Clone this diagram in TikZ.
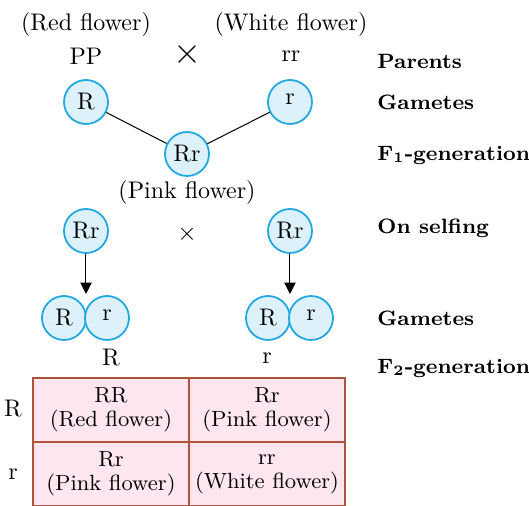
\documentclass[tikz,border=0pt]{standalone}
\usetikzlibrary{arrows.meta}
\definecolor{gameteFill}{HTML}{DDF1FB}
\definecolor{gameteLine}{HTML}{1EA7E1}
\definecolor{cellFill}{HTML}{FDE6EF}
\definecolor{cellLine}{HTML}{B0533A}
\tikzset{
  gamete/.style={circle, draw=gameteLine, fill=gameteFill, line width=0.7pt, minimum size=17.6pt, inner sep=0pt},
  stage/.style={rectangle, draw=none, anchor=west, inner sep=0pt, font=\fontsize{8.3}{10}\selectfont\bfseries},
  cell/.style={rectangle, draw=cellLine, fill=cellFill, line width=0.8pt, minimum width=62.4pt, minimum height=25.6pt, align=center, inner sep=0pt, font=\fontsize{8.8}{9.6}\selectfont}
}
\begin{document}
\begin{tikzpicture}[x=0.4pt, y=-0.4pt, font=\fontsize{9.6}{11}\selectfont]
\useasboundingbox (0,0) rectangle (529,506);
%%%%%%%%%%%%%%%%%%%%%%%%%%%%%%% Parents
\node[rectangle, draw=none](txtRed) at (86,25){(Red flower)};
\node[rectangle, draw=none](txtWhite) at (291,25){(White flower)};
\node[rectangle, draw=none](pPP) at (86,56){PP};
\node[rectangle, draw=none](pCross) at (188,55){\Large$\times$};
\node[rectangle, draw=none](prr) at (291,56){rr};
\node[stage](lblParents) at (377,61){Parents};
%%%%%%%%%%%%%%%%%%%%%%%%%%%%%%% Gametes and F1
\node[gamete](gR) at (86,102){R};
\node[gamete](gr) at (290,102){\raisebox{2pt}{r}};
\node[stage](lblGametes) at (377,102){Gametes};
\node[gamete](fRr) at (187,154){Rr};
\node[stage](lblFone) at (377,155){F\textsubscript{1}-generation};
\draw[thin] (gR) -- (fRr);
\draw[thin] (gr) -- (fRr);
\node[rectangle, draw=none](txtPink) at (187,193){(Pink flower)};
%%%%%%%%%%%%%%%%%%%%%%%%%%%%%%% Selfing
\node[gamete](sRrA) at (86,231){Rr};
\node[rectangle, draw=none](sCross) at (187,234){$\times$};
\node[gamete](sRrB) at (290,231){Rr};
\node[stage](lblSelf) at (377,228){On selfing};
\node[gamete](sRA) at (64,318){R};
\node[gamete](srA) at (107,318){\raisebox{2pt}{r}};
\node[gamete](sRB) at (268,318){R};
\node[gamete](srB) at (311,318){\raisebox{2pt}{r}};
\coordinate (tipA) at (86,294);
\coordinate (tipB) at (290,294);
\draw[-{Triangle[length=4.5pt, width=4.5pt]}, thin] (sRrA) -- (tipA);
\draw[-{Triangle[length=4.5pt, width=4.5pt]}, thin] (sRrB) -- (tipB);
\node[stage](lblGametesB) at (377,318){Gametes};
%%%%%%%%%%%%%%%%%%%%%%%%%%%%%%% F2 checkerboard
\node[rectangle, draw=none](colR) at (111,358){R};
\node[rectangle, draw=none](colr) at (267,358){r};
\node[stage](lblFtwo) at (377,368){F\textsubscript{2}-generation};
\node[rectangle, draw=none](rowR) at (13,409){R};
\node[rectangle, draw=none](rowr) at (13,474){r};
\node[cell](cRR) at (111,410){RR\\(Red flower)};
\node[cell](cRrA) at (267,410){Rr\\(Pink flower)};
\node[cell](cRrB) at (111,474){Rr\\(Pink flower)};
\node[cell](crr) at (267,474){rr\\(White flower)};
\end{tikzpicture}
\end{document}
